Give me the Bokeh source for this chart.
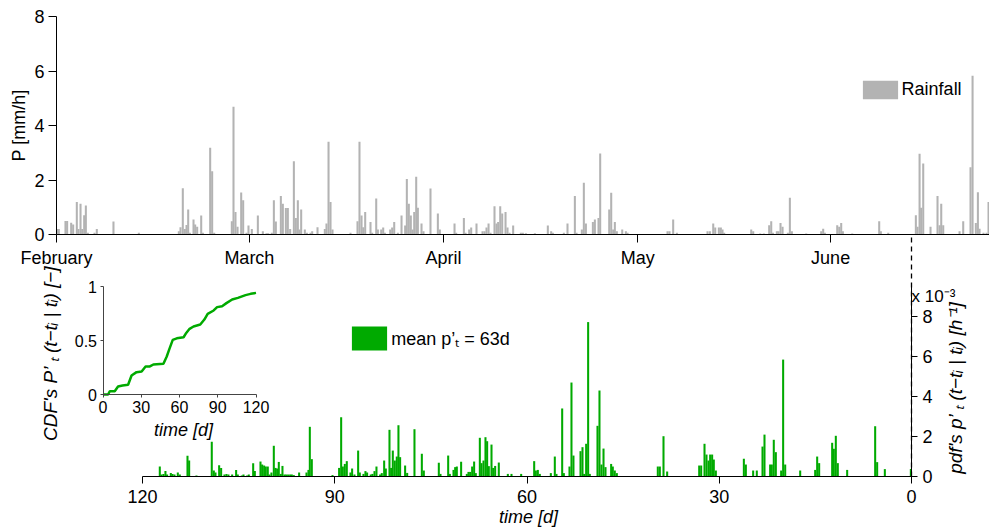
from math import pi
from bokeh.plotting import figure
from bokeh.models import (Range1d, LinearAxis, FixedTicker, Label, Legend, LegendItem)
from bokeh.embed import file_html
from bokeh.resources import INLINE

# ---------------- data ----------------
month_ticks = [0.0, 30.1, 60.4, 90.7, 120.8]
month_names = ["February", "March", "April", "May", "June"]

rain_day = [0.10, 0.36, 1.40, 1.66, 2.29, 2.60, 3.17, 3.43, 3.75, 4.01, 4.32, 4.58, 4.89, 5.93, 6.29, 8.89,
            12.85, 19.09, 19.35, 19.71, 20.03, 20.29, 20.55, 20.81, 21.38, 21.64, 21.95, 22.58, 22.84, 23.98,
            24.29, 24.61, 27.36, 27.62, 27.93, 28.25, 28.82, 29.13, 29.65, 29.96, 30.48, 31.42, 32.20, 32.77,
            33.03, 33.60, 33.92, 34.23, 35.01, 35.32, 35.79, 36.10,
            36.46, 37.04, 37.35, 37.66, 37.92, 38.18, 38.75, 39.07, 39.64, 39.90, 40.73, 41.87, 42.13, 42.45,
            42.76, 43.07, 45.88, 46.97, 47.28, 47.60, 47.86, 48.17, 49.00, 49.26, 49.89, 50.15, 50.67, 50.98,
            51.24, 52.07, 52.38, 52.70, 53.27, 53.84, 54.41, 54.67, 54.98, 55.29, 55.56, 55.82, 56.13, 56.39,
            56.96, 57.27, 58.36, 59.51, 59.82, 62.11, 62.37, 63.57, 63.83, 64.40, 64.71, 65.54, 66.48, 66.79,
            67.10, 67.42, 67.73, 68.35, 68.66, 68.92, 69.24, 69.55, 70.07, 70.38, 70.69, 71.26, 72.46, 72.77,
            73.24, 74.65, 76.67, 77.19, 77.45, 79.17, 79.74, 80.89, 81.15, 81.98, 82.29, 82.61, 83.70, 84.01,
            84.58, 84.84, 86.25, 86.56, 86.87, 87.13, 87.44, 88.28, 88.85, 89.11, 95.35, 95.66, 96.23, 96.81,
            101.59, 101.96, 102.48, 102.79, 103.36, 103.67, 103.93, 104.19, 108.41, 108.72,
            109.81, 110.38, 111.21, 111.53, 111.79, 112.41, 112.67, 112.98, 113.30, 114.13, 114.44, 114.75,
            116.99, 119.33, 119.64, 119.90, 121.83, 122.14, 122.45, 122.71, 124.17, 128.38, 128.64, 129.79,
            134.10, 134.36, 134.68, 134.93, 135.25, 136.39, 137.48, 137.80, 138.06, 138.37, 140.92, 141.49,
            142.63, 142.95, 143.46, 143.78, 144.04, 144.66, 145.13, 145.44]
rain_mm = [0.2, 0.2, 0.5, 0.5, 0.43, 0.37, 1.19, 0.2, 1.13, 0.2, 0.71, 1.06, 0.06, 0.06, 0.2, 0.48,
           0.06, 0.12, 0.27, 1.70, 0.2, 0.35, 0.92, 0.06, 0.55, 0.37, 0.28, 0.70, 0.06, 3.18,
           2.32, 0.06, 0.49, 4.69, 0.83, 0.28, 1.54, 1.26, 0.06, 0.33, 0.2, 0.70, 0.12, 0.05,
           0.05, 0.06, 1.26, 0.48, 1.41, 1.13, 0.97, 0.97,
           0.2, 2.69, 0.61, 1.26, 0.18, 0.92, 0.18, 0.06, 0.06, 0.12, 0.27, 0.2, 0.4, 3.40,
           1.19, 0.18, 0.06, 0.49, 3.40, 0.70, 0.27, 0.83, 0.46, 0.06, 1.32, 0.18, 0.18, 0.26,
           0.06, 0.18, 0.26, 0.46, 0.06, 0.70, 0.33, 2.04, 1.13, 0.70, 0.18, 0.83, 2.12, 0.98,
           0.4, 0.12, 1.69, 0.77, 0.18, 0.4, 0.06, 0.61, 0.06, 0.18, 0.26, 0.4, 0.12, 0.12,
           0.26, 0.4, 0.06, 1.04, 0.4, 0.46, 1.04, 0.77, 0.83, 0.26, 0.06, 0.33, 0.06, 0.06,
           0.05, 0.05, 0.33, 0.12, 0.06, 0.06, 0.4, 1.41, 0.06, 0.18, 1.90, 0.4, 0.46, 0.55,
           0.61, 2.97, 0.92, 1.53, 0.18, 0.46, 0.12, 0.18, 0.12, 0.06, 0.12, 0.12, 0.55, 0.06,
           0.12, 0.12, 0.4, 0.26, 0.26, 0.26, 0.18, 0.06, 0.18, 0.12,
           0.04, 0.04, 0.34, 0.49, 0.06, 0.12, 0.12, 0.42, 0.28, 0.06, 1.35, 0.12,
           0.04, 0.12, 0.21, 0.06, 0.34, 0.28, 0.42, 0.12, 0.04, 0.49, 0.12, 0.06,
           0.71, 0.28, 2.96, 0.98, 2.61, 0.28, 1.41, 0.34, 1.13, 0.34, 0.12, 0.49,
           2.47, 5.83, 0.42, 1.55, 0.21, 0.06, 0.06, 1.19]

pdf_t = [117.30, 117.04, 116.73, 116.42, 116.16, 115.58, 115.32, 115.01, 114.49, 114.18, 112.98, 112.72,
         111.58, 109.19, 108.87, 108.61, 108.04, 107.73, 107.21, 106.90, 106.59, 106.33, 106.01, 105.39,
         105.13, 104.50, 104.24, 103.67, 103.41, 102.73, 102.47, 101.59, 101.33, 101.02, 100.76, 100.45,
         100.19, 99.88, 99.51, 99.25, 98.99, 98.73, 98.42, 98.16, 97.85, 97.59, 97.28, 96.96, 96.70, 96.39,
         95.56, 94.41, 94.10, 93.89, 93.58, 90.35, 89.32, 89.00, 88.74, 88.43, 88.12, 87.55, 87.29, 86.92,
         86.35, 86.09, 85.52, 85.21, 84.95, 84.38, 84.12, 83.80, 83.49, 82.92, 82.66, 82.29, 82.03, 81.46,
         81.20, 80.94, 80.63, 80.32, 80.06, 79.80,
         79.02, 78.70, 77.56, 76.41, 76.10, 73.76, 73.50, 72.30, 72.04, 71.47, 71.21, 70.95, 70.28, 69.39,
         69.13, 68.87, 68.56, 68.25, 67.99, 67.36, 67.10, 66.79, 66.48, 66.22, 65.96, 65.54, 65.28, 64.97,
         64.40, 62.99, 62.42, 60.91, 58.88, 58.62, 58.31, 58.00, 56.28, 55.66, 55.40, 54.51, 54.25, 53.37,
         53.06, 52.75, 51.65, 51.34, 51.08, 50.77, 50.46, 50.20, 49.00, 48.69, 48.38, 48.06, 47.75, 46.87,
         46.61, 46.30, 45.98,
         39.59, 39.27, 38.70, 38.13, 33.13, 32.82, 32.30, 31.99, 31.68, 31.42, 31.11, 30.85, 30.53, 26.16,
         25.85, 24.71, 24.14, 23.25, 22.94, 22.06, 21.80, 21.49, 21.17, 20.34, 20.03, 19.71, 17.37, 15.03,
         14.72, 14.41, 12.38, 12.12, 11.81, 11.50, 10.04, 5.67, 5.36, 4.16, 0.10]
pdf_e3 = [0.50, 0.10, 0.13, 0.27, 0.10, 0.17, 0.13, 0.10, 0.20, 0.10, 1.04, 0.80,
          0.05, 1.74, 0.30, 0.20, 0.57, 0.43, 0.10, 0.13, 0.10, 0.03, 0.10, 0.33,
          0.10, 0.05, 0.10, 0.05, 0.10, 0.67, 0.27, 0.75, 0.60, 0.55, 0.50, 0.50,
          0.10, 0.20, 1.54, 0.43, 0.40, 0.73, 0.13, 0.53, 0.10, 0.10, 0.10, 0.10, 0.10, 0.07,
          0.20, 0.20, 0.33, 2.49, 0.87, 0.07, 0.43, 2.97, 0.50, 0.63, 0.77, 0.20, 0.40, 0.10,
          1.30, 0.20, 0.13, 0.27, 0.20, 0.10, 0.13, 0.27, 0.50, 0.10, 0.17, 0.80, 0.40, 2.34,
          0.43, 1.30, 0.80, 1.00, 2.57, 0.97,
          0.55, 0.18, 2.37, 1.14, 0.30, 0.69, 0.13, 1.05, 0.13, 0.33, 0.47, 0.50, 0.74, 0.13,
          0.23, 0.23, 0.50, 0.75, 0.17, 1.94, 0.67, 0.80, 1.97, 1.77, 0.52, 1.60, 0.43, 0.53,
          0.70, 0.13, 0.13, 0.13, 0.77, 0.30, 0.33, 0.13, 0.17, 1.00, 0.13, 3.41, 0.17, 0.50,
          4.71, 1.05, 1.27, 1.47, 0.13, 1.64, 7.74, 0.13, 2.54, 4.31, 0.60, 1.40, 0.47, 0.63,
          0.50, 0.30, 0.17,
          0.50, 0.50, 2.02, 0.25, 0.55, 0.55, 1.64, 1.10, 0.80, 1.10, 1.10, 0.85, 0.30, 0.89,
          0.60, 0.30, 0.30, 1.50, 2.10, 0.60, 0.60, 1.84, 1.22, 0.30, 5.86, 0.60, 0.30, 0.33,
          1.00, 0.67, 1.69, 1.39, 2.04, 0.67, 0.33, 2.52, 0.72, 0.37, 0.38]

cdf_t = [0, 4, 5.3, 9.2, 11.8, 15.3, 19.7, 22.4, 26.3, 30.3, 33.4, 36.8, 39.5, 47.4, 50, 52.1, 54.7,
         57.9, 63.2, 65.3, 67.9, 71, 76.3, 79.5, 82.1, 86.8, 89.5, 93.4, 96.8, 101.3, 105.8, 111.8, 115.8, 120]
cdf_p = [0, 0, 0.03, 0.03, 0.074, 0.083, 0.09, 0.176, 0.207, 0.213, 0.26, 0.26, 0.278, 0.284, 0.352,
         0.423, 0.506, 0.52, 0.53, 0.57, 0.608, 0.63, 0.648, 0.694, 0.747, 0.778, 0.809, 0.818, 0.846,
         0.88, 0.895, 0.92, 0.932, 0.941]

rain_ticks = [0, 2, 4, 6, 8]
pdf_ticks = [0, 2, 4, 6, 8]
lag_ticks = [0, 30, 60, 90, 120]
cdf_ticks = [0.0, 0.5, 1.0]

# ---------------- layout (pixels) ----------------
W, H = 989, 530
K = 769.0 / 120.0            # px per day (top + bottom panels)
TOP_X0, TOP_BASE, TOP_PPU = 56.0, 234.0, 27.25
BOT_X0, BOT_BASE, BOT_PPU = 911.0, 476.0, 19.95
INS_X0, INS_X1, INS_BASE, INS_TOP = 102.5, 255.5, 394.0, 286.0
INS_PPD = (INS_X1 - INS_X0) / 120.0
INS_PPU = INS_BASE - INS_TOP
BAR_W = 0.32

FONT = "Liberation Sans"
GRAY = "#b3b3b3"
GREEN = "#00aa00"

p = figure(width=W, height=H, x_range=Range1d(0, W), y_range=Range1d(H, 0),
           x_axis_type=None, y_axis_type=None, toolbar_location=None,
           output_backend="svg", min_border=0, outline_line_color=None,
           background_fill_color="white", border_fill_color="white")

p.extra_x_ranges = {
    "top_x": Range1d(-TOP_X0 / K, (W - TOP_X0) / K),
    "bot_x": Range1d(BOT_X0 / K, (BOT_X0 - W) / K),
    "ins_x": Range1d(-INS_X0 / INS_PPD, (W - INS_X0) / INS_PPD),
}
p.extra_y_ranges = {
    "top_y": Range1d((TOP_BASE - H) / TOP_PPU, TOP_BASE / TOP_PPU),
    "bot_y": Range1d((BOT_BASE - H) / BOT_PPU, BOT_BASE / BOT_PPU),
    "ins_y": Range1d((INS_BASE - H) / INS_PPU, INS_BASE / INS_PPU),
}


def style(ax, size="18px", color="black", tick_out=7, standoff=5):
    ax.major_label_text_font = FONT
    ax.major_label_text_font_size = size
    ax.major_label_text_color = "black"
    ax.axis_line_color = color
    ax.major_tick_line_color = color
    ax.major_tick_in = 0
    ax.major_tick_out = tick_out
    ax.minor_tick_out = 0
    ax.minor_tick_in = 0
    ax.major_label_standoff = standoff
    return ax


# top panel axes
ax = LinearAxis(x_range_name="top_x", ticker=FixedTicker(ticks=month_ticks),
                major_label_overrides=dict(zip(month_ticks, month_names)),
                fixed_location=TOP_BASE, bounds=(0, (W - TOP_X0) / K))
p.add_layout(style(ax, tick_out=8, standoff=5), "below")
ay = LinearAxis(y_range_name="top_y", ticker=FixedTicker(ticks=rain_ticks),
                fixed_location=TOP_X0, bounds=(0, 8))
p.add_layout(style(ay, tick_out=8, standoff=4), "left")

# bottom panel axes
bx = LinearAxis(x_range_name="bot_x", ticker=FixedTicker(ticks=lag_ticks),
                fixed_location=BOT_BASE, bounds=(0, 120))
p.add_layout(style(bx, tick_out=7, standoff=6), "below")
by = LinearAxis(y_range_name="bot_y", ticker=FixedTicker(ticks=pdf_ticks),
                fixed_location=BOT_X0, bounds=(0, (BOT_BASE - 283.0) / BOT_PPU))
p.add_layout(style(by, tick_out=6, standoff=5), "right")

# inset axes
ix = LinearAxis(x_range_name="ins_x", ticker=FixedTicker(ticks=lag_ticks),
                fixed_location=INS_BASE, bounds=(0, 120))
p.add_layout(style(ix, size="16px", color="#444444", tick_out=3, standoff=3), "below")
iy = LinearAxis(y_range_name="ins_y", ticker=FixedTicker(ticks=cdf_ticks),
                major_label_overrides={0.0: "0", 0.5: "0.5", 1.0: "1"},
                fixed_location=INS_X0, bounds=(0, 1))
p.add_layout(style(iy, size="16px", color="#444444", tick_out=3, standoff=3), "left")

# marks
rain = p.vbar(x=rain_day, top=rain_mm, bottom=0, width=BAR_W, fill_color=GRAY, line_color=None,
              x_range_name="top_x", y_range_name="top_y")
pdf = p.vbar(x=pdf_t, top=pdf_e3, bottom=0, width=BAR_W, fill_color=GREEN, line_color=None,
             x_range_name="bot_x", y_range_name="bot_y")
p.line(cdf_t, cdf_p, line_color=GREEN, line_width=2.5, x_range_name="ins_x", y_range_name="ins_y")

# dashed reference line at t = 0 (end of window) reaching the rainfall baseline
p.segment(x0=[0], y0=[0], x1=[0], y1=[(BOT_BASE - TOP_BASE) / BOT_PPU], line_color="black",
          line_width=1.3, line_dash="5 4", x_range_name="bot_x", y_range_name="bot_y")


def legend(item, renderer, loc, gh):
    return Legend(items=[LegendItem(label=item, renderers=[renderer])], location=loc,
                  glyph_width=44, glyph_height=gh, label_standoff=0, padding=0, spacing=0,
                  margin=0, border_line_color=None, background_fill_alpha=0,
                  label_text_font=FONT, label_text_font_size="18px", label_text_color="black")


p.add_layout(legend("Rainfall", rain, (857.6, 429.5), 23))
p.add_layout(legend("mean p\u2019\u209c = 63d", pdf, (347.3, 177.0), 30))


def lab(x, y, text, angle=0.0, italic=False, size="18px", align="center"):
    p.add_layout(Label(x=x, y=y, text=text, angle=angle, text_align=align, text_baseline="middle",
                       text_font=FONT, text_font_size=size,
                       text_font_style="italic" if italic else "normal", text_color="black"))


lab(18, 125, "P [mm/h]", angle=pi / 2)
lab(528, 516, "time [d]", italic=True)
lab(183, 429, "time [d]", italic=True)
lab(50, 350, "CDF's  P\u2019 \u209c (t\u2212t\u1d62 | t\u1d62) [\u2212]", angle=pi / 2, italic=True, size="19px")
lab(955, 379, "pdf's  p\u2019 \u209c (t\u2212t\u1d62 | t\u1d62)   [h\u207b\u00b9]", angle=pi / 2, italic=True, size="19px")
lab(911, 296, "x 10\u207b\u00b3", size="17px", align="left")

open("out.html", "w").write(file_html(p, INLINE))
